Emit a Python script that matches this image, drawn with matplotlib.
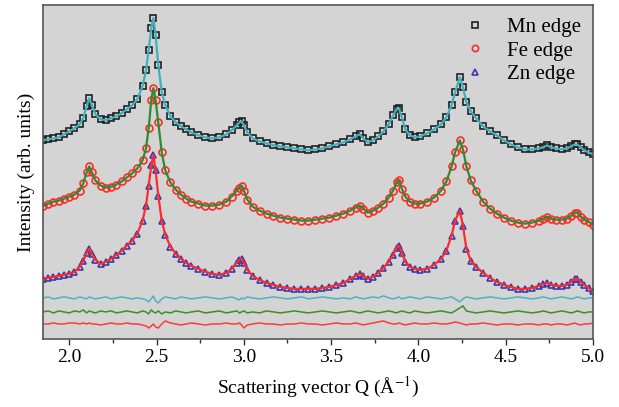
import numpy as np
import matplotlib
matplotlib.use("Agg")
import matplotlib.pyplot as plt
from matplotlib.ticker import MultipleLocator, NullLocator

# scattering vector grid (1/Angstrom), denser around the peaks
q = [1.85, 1.88, 1.91, 1.94, 1.97, 2.00, 2.03, 2.06, 2.08, 2.10,
     2.115, 2.13, 2.15, 2.18, 2.21, 2.24, 2.27, 2.30, 2.33, 2.36,
     2.39, 2.42, 2.44, 2.455, 2.47, 2.482, 2.495, 2.51, 2.53, 2.55,
     2.58, 2.61, 2.64, 2.67, 2.70, 2.74, 2.78, 2.82, 2.86, 2.90,
     2.93, 2.96, 2.975, 2.987, 3.00, 3.02, 3.05, 3.09, 3.13, 3.17,
     3.21, 3.25, 3.29, 3.33, 3.37, 3.41, 3.45, 3.49, 3.53, 3.57,
     3.61, 3.64, 3.664, 3.685, 3.71, 3.74, 3.77, 3.80, 3.83, 3.855,
     3.875, 3.888, 3.905, 3.925, 3.95, 3.98, 4.01, 4.05, 4.09, 4.13,
     4.16, 4.19, 4.21, 4.237, 4.255, 4.275, 4.30, 4.33, 4.37, 4.41,
     4.45, 4.49, 4.53, 4.57, 4.61, 4.65, 4.69, 4.715, 4.737, 4.76,
     4.79, 4.82, 4.85, 4.875, 4.895, 4.91, 4.93, 4.95, 4.975, 5.00]

# intensities (arb. units, offset curves)
mn_edge = [198, 199, 200, 201, 204, 207, 210, 214, 220, 232,
           240, 233, 224, 219, 218, 220, 222, 225, 229, 233,
           239, 252, 268, 288, 310, 320, 303, 273, 246, 233,
           222, 216, 212, 209, 206, 203, 201, 200, 201, 204,
           208, 213, 216, 217, 213, 206, 200, 197, 195, 193,
           192, 191, 190, 189, 188, 189, 190, 192, 194, 196,
           199, 202, 204, 200, 196, 198, 202, 207, 214, 223,
           229, 230, 221, 209, 203, 201, 202, 205, 209, 214,
           221, 233, 246, 261, 251, 236, 227, 220, 212, 207,
           203, 198, 194, 191, 189, 189, 190, 191, 193, 191,
           190, 189, 190, 192, 194, 194, 191, 188, 186, 184]

fe_edge = [133, 135, 137, 138, 140, 142, 144, 148, 155, 166,
           172, 166, 158, 153, 151, 152, 154, 157, 161, 165,
           170, 178, 190, 210, 238, 250, 238, 216, 186, 168,
           156, 149, 144, 140, 137, 135, 133, 133, 134, 137,
           142, 148, 151, 153, 148, 139, 132, 128, 125, 123,
           121, 120, 119, 118, 118, 119, 120, 121, 123, 125,
           128, 131, 133, 130, 126, 128, 131, 135, 141, 148,
           156, 158, 150, 142, 137, 135, 135, 137, 141, 148,
           157, 172, 186, 198, 189, 172, 158, 148, 137, 130,
           125, 121, 118, 116, 115, 116, 118, 120, 122, 120,
           119, 119, 120, 123, 126, 126, 122, 119, 117, 114]

zn_edge = [60, 61, 62, 63, 64, 65, 67, 72, 78, 86,
           90, 85, 79, 75, 77, 80, 84, 88, 93, 98,
           105, 118, 133, 153, 173, 183, 168, 143, 118, 104,
           92, 85, 80, 76, 73, 70, 67, 65, 64, 66,
           70, 76, 79, 80, 76, 69, 63, 59, 56, 54,
           52, 51, 50, 50, 50, 50, 51, 52, 54, 56,
           60, 63, 65, 63, 60, 62, 66, 71, 77, 84,
           91, 93, 86, 77, 72, 70, 69, 70, 74, 80,
           88, 103, 118, 128, 113, 90, 78, 72, 66, 61,
           57, 54, 52, 50, 50, 51, 53, 55, 56, 54,
           53, 53, 54, 57, 60, 60, 57, 54, 51, 48]

# difference curves (data - fit, offset)
mn_diff = [41, 42, 40, 41, 42, 41, 40, 42, 41, 40,
           42, 41, 40, 41, 42, 40, 41, 42, 41, 40,
           41, 40, 39, 37, 40, 43, 38, 36, 40, 42,
           41, 40, 42, 41, 40, 41, 42, 41, 40, 41,
           42, 40, 39, 41, 40, 42, 41, 40, 41, 42,
           41, 40, 41, 42, 40, 41, 42, 41, 40, 41,
           40, 42, 41, 40, 41, 42, 41, 43, 41, 40,
           41, 42, 40, 41, 42, 41, 40, 42, 41, 40,
           41, 42, 40, 37, 40, 42, 41, 40, 41, 42,
           41, 40, 41, 42, 41, 40, 41, 42, 41, 40,
           41, 42, 41, 40, 41, 42, 41, 40, 41, 41]

fe_diff = [27, 28, 26, 28, 27, 26, 28, 27, 29, 26,
           28, 27, 26, 28, 27, 28, 26, 27, 28, 27,
           26, 28, 27, 25, 29, 27, 26, 28, 25, 27,
           26, 28, 27, 26, 27, 28, 26, 27, 28, 26,
           27, 28, 26, 27, 28, 26, 27, 26, 28, 27,
           26, 27, 28, 27, 26, 27, 28, 27, 26, 27,
           28, 27, 26, 27, 28, 27, 26, 27, 28, 27,
           26, 27, 28, 27, 26, 28, 27, 26, 27, 28,
           27, 26, 28, 31, 33, 28, 27, 26, 27, 28,
           27, 26, 27, 28, 27, 26, 27, 28, 27, 26,
           27, 28, 27, 26, 27, 28, 27, 26, 27, 27]

zn_diff = [15, 15, 16, 15, 15, 16, 16, 15, 16, 15,
           16, 15, 15, 14, 15, 16, 15, 15, 16, 15,
           15, 14, 13, 11, 13, 15, 12, 11, 15, 18,
           16, 15, 14, 15, 16, 15, 14, 15, 15, 16,
           15, 15, 16, 14, 11, 14, 15, 16, 15, 15,
           14, 15, 15, 16, 15, 15, 14, 15, 16, 15,
           15, 16, 15, 14, 15, 16, 17, 18, 16, 15,
           15, 16, 15, 14, 15, 16, 15, 15, 16, 15,
           15, 16, 17, 16, 15, 14, 15, 15, 16, 15,
           14, 15, 15, 14, 15, 15, 14, 15, 15, 14,
           15, 15, 14, 15, 16, 15, 14, 15, 15, 16]

labels = ["Mn edge", "Fe edge", "Zn edge"]

plt.rcParams['font.family'] = ['Liberation Serif', 'DejaVu Serif']
plt.rcParams['mathtext.fontset'] = 'stix'

fig = plt.figure(figsize=(6.19, 4.07), dpi=100)
ax = fig.add_axes([0.0695, 0.167, 0.8885, 0.821])
ax.set_facecolor("#d4d4d4")

ms = 4.5
ax.plot(q, mn_edge, ls="none", marker="s", ms=ms, mfc="none", mec="#222222", mew=1.2, label=labels[0])
ax.plot(q, mn_edge, color="#3fb0bf", lw=1.6)
ax.plot(q, fe_edge, ls="none", marker="o", ms=ms + 0.5, mfc="none", mec="#ff2a2a", mew=1.2, label=labels[1])
ax.plot(q, fe_edge, color="#2e8b2e", lw=1.6)
ax.plot(q, zn_edge, ls="none", marker="^", ms=ms + 0.5, mfc="none", mec="#3a3aaa", mew=1.2, label=labels[2])
ax.plot(q, zn_edge, color="#ff2a2a", lw=1.6)

ax.plot(q, mn_diff, color="#4ab4c4", lw=1.1)
ax.plot(q, fe_diff, color="#3a8f2a", lw=1.1)
ax.plot(q, zn_diff, color="#ff3a3a", lw=1.1)

ax.set_xlim(1.85, 5.0)
ax.set_ylim(0, 333)
ax.xaxis.set_major_locator(MultipleLocator(0.5))
ax.xaxis.set_minor_locator(MultipleLocator(0.25))
ax.yaxis.set_major_locator(NullLocator())
ax.tick_params(axis="x", which="major", direction="out", length=4, width=1, labelsize=14, colors="#333333")
ax.tick_params(axis="x", which="minor", direction="out", length=3, width=1, colors="#333333")
ax.tick_params(axis="x", labelcolor="black")
for s in ax.spines.values():
    s.set_color("#555555")
    s.set_linewidth(1.2)

ax.set_xlabel("Scattering vector Q (Å$^{-1}$)", fontsize=14, labelpad=6)
ax.set_ylabel("Intensity (arb. units)", fontsize=14, labelpad=6)

ax.legend(loc="upper right", frameon=False, fontsize=15, handletextpad=0.5,
          borderaxespad=0.2, labelspacing=0.2, markerscale=0.9)

fig.savefig("out.png", dpi=100)
